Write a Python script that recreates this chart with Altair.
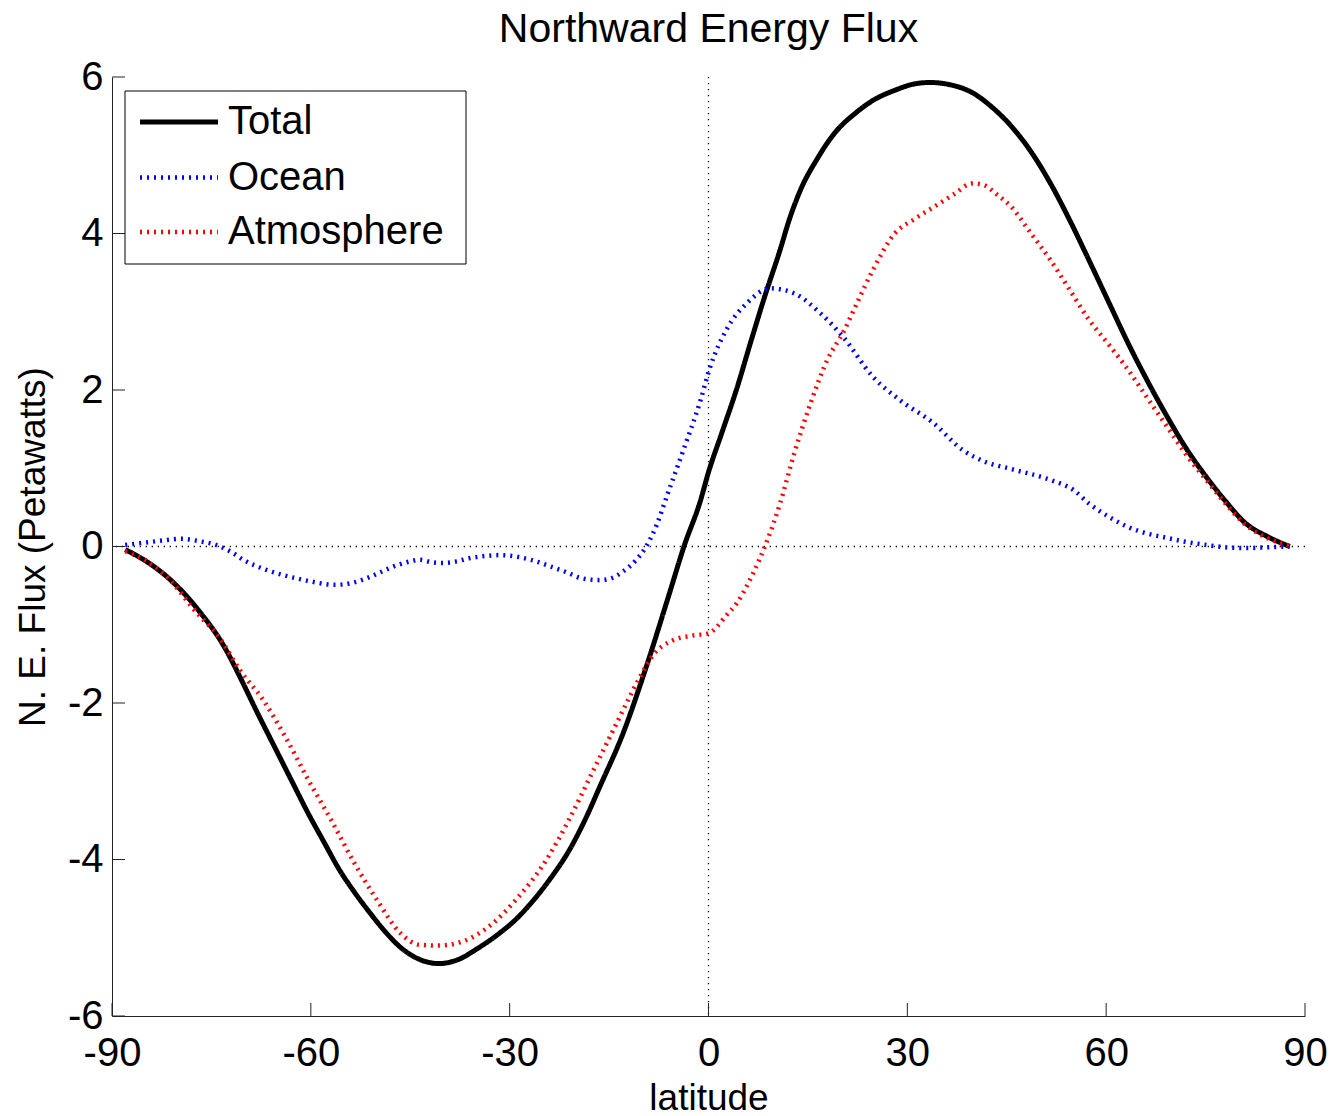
import altair as alt
import pandas as pd

# Northward energy flux by latitude (petawatts)
series_names = ["Total", "Ocean", "Atmosphere"]
series_colors = ["#000000", "#0000FF", "#FF0000"]

total_lat = [-88, -85, -81, -77, -73, -70.5, -68.5, -65, -62.5, -60.4, -58, -55.7, -53.4,
             -51.1, -48.8, -46.5, -43.5, -40.7, -37.8, -34.9, -31.5, -29, -26.8, -24, -21,
             -18.5, -16.4, -12.9, -9.4, -5.9, -3.7, -1.2, 0, 2, 4.2, 6.5, 8.5, 10.8, 12.2,
             14, 16.3, 19, 22.2, 25, 28.1, 31, 33.4, 36.5, 39.8, 42.7, 45.7, 48.7, 51.6,
             54.5, 57.4, 60.4, 63.3, 66.2, 69.2, 72.1, 75.1, 78, 81, 84.5, 87.7]
total_flux = [-0.04, -0.18, -0.44, -0.81, -1.29, -1.70, -2.05, -2.64, -3.06, -3.41, -3.78,
              -4.13, -4.42, -4.68, -4.92, -5.12, -5.28, -5.33, -5.28, -5.14, -4.94, -4.76,
              -4.56, -4.26, -3.88, -3.47, -3.07, -2.39, -1.54, -0.60, 0.0, 0.59, 0.95, 1.45,
              2.0, 2.65, 3.2, 3.79, 4.18, 4.58, 4.94, 5.28, 5.54, 5.71, 5.83, 5.91, 5.93,
              5.90, 5.80, 5.62, 5.37, 5.04, 4.64, 4.17, 3.66, 3.12, 2.60, 2.12, 1.66, 1.25,
              0.89, 0.58, 0.30, 0.12, 0.0]

ocean_lat = [-88, -85, -82, -79.5, -77, -74.3, -72, -70.2, -67, -64.4, -62, -59.8, -56.4,
             -53.5, -51.1, -49, -47, -45, -43.6, -41.8, -40.1, -38, -36.1, -33.5, -31.5,
             -29, -26.8, -24, -21.1, -19.4, -16.4, -14.5, -12.9, -11, -9.4, -7.8, -6.3,
             -3.8, -1.2, 0.2, 2.7, 5.8, 9.3, 12.8, 16.9, 20.3, 24.8, 28.9, 33.9, 38.4,
             41.5, 45.7, 51.6, 55.1, 57.4, 60.4, 63.3, 66, 69.2, 72, 75.1, 78, 81, 84.5,
             87.7]
ocean_flux = [0.02, 0.05, 0.08, 0.10, 0.07, 0.02, -0.07, -0.17, -0.29, -0.36, -0.41, -0.45,
              -0.49, -0.46, -0.39, -0.31, -0.24, -0.19, -0.17, -0.20, -0.21, -0.19, -0.15,
              -0.12, -0.11, -0.13, -0.17, -0.25, -0.34, -0.40, -0.43, -0.40, -0.32, -0.18,
              0.0, 0.28, 0.64, 1.23, 1.87, 2.28, 2.77, 3.11, 3.30, 3.24, 2.98, 2.68, 2.17,
              1.87, 1.58, 1.23, 1.09, 0.99, 0.85, 0.72, 0.55, 0.38, 0.25, 0.17, 0.11, 0.06,
              0.02, -0.01, -0.02, -0.01, 0.0]

atmos_lat = [-88, -84.7, -81, -77.9, -73.6, -70.7, -67.2, -63.6, -60.4, -56.9, -53.4, -50,
             -46.5, -43.6, -40.7, -37.2, -32.6, -29.1, -24.5, -21.1, -17.6, -14.1, -10.6,
             -8.3, -5.4, -2.5, 0, 2.7, 4.3, 6.0, 7.5, 8.6, 10.8, 12.8, 15.4, 17.9, 20.4,
             22.4, 24.9, 28.1, 31, 34, 37, 39.8, 41.5, 43.5, 45.7, 48.5, 51.6, 54.5, 57.4,
             60.4, 63.3, 66.2, 69.2, 72.1, 75.1, 78, 81, 84.5, 87.7]
atmos_flux = [-0.06, -0.19, -0.45, -0.78, -1.19, -1.58, -1.96, -2.47, -2.98, -3.50, -4.05,
              -4.52, -4.94, -5.09, -5.10, -5.05, -4.82, -4.52, -4.01, -3.50, -2.90, -2.30,
              -1.71, -1.38, -1.20, -1.14, -1.11, -0.88, -0.72, -0.47, -0.20, 0.02, 0.55,
              1.15, 1.83, 2.38, 2.75, 3.11, 3.55, 4.00, 4.18, 4.34, 4.50, 4.64, 4.62, 4.50,
              4.34, 4.02, 3.66, 3.28, 2.90, 2.58, 2.26, 1.90, 1.53, 1.17, 0.85, 0.55, 0.28,
              0.10, 0.01]

x_ticks = [-90, -60, -30, 0, 30, 60, 90]
y_ticks = [-6, -4, -2, 0, 2, 4, 6]

W, H = 1193, 939
FONT = "Liberation Sans"
TICK_LEN = 13
AXIS_COLOR = "#222222"
series_width = {"Total": 5, "Ocean": 4.5, "Atmosphere": 4.5}
series_dash = {"Total": [1, 0], "Ocean": [2, 5], "Atmosphere": [2, 5]}

rows = []
for name, lats, vals in [("Total", total_lat, total_flux),
                         ("Ocean", ocean_lat, ocean_flux),
                         ("Atmosphere", atmos_lat, atmos_flux)]:
    for order, (la, v) in enumerate(zip(lats, vals)):
        rows.append({"series": name, "lat": la, "flux": v, "order": order})
df = pd.DataFrame(rows)

x_scale = alt.Scale(domain=[-90, 90], nice=False, zero=False)
y_scale = alt.Scale(domain=[-6, 6], nice=False, zero=False)

label_style = dict(labelFont=FONT, labelFontSize=40, labelColor="#000000",
                   labelExpr="'' + datum.value", labelFlush=False,
                   ticks=False, tickSize=0, grid=False,
                   domainColor=AXIS_COLOR, domainWidth=1,
                   titleFont=FONT, titleFontSize=37, titleFontWeight="normal",
                   titleColor="#000000")

x_enc = alt.X(
    "lat:Q", scale=x_scale,
    axis=alt.Axis(values=x_ticks, title="latitude", labelPadding=17,
                  titleX=W / 2, titleY=93, titleBaseline="alphabetic",
                  titleAlign="center", **label_style),
)
y_enc = alt.Y(
    "flux:Q", scale=y_scale,
    axis=alt.Axis(values=y_ticks, title="N. E. Flux (Petawatts)", labelPadding=9,
                  titleX=-79, titleY=H / 2, titleAngle=270, titleBaseline="middle",
                  titleAlign="center", **label_style),
)
color_enc = alt.Color("series:N",
                      scale=alt.Scale(domain=series_names, range=series_colors),
                      legend=None)


def series_line(name):
    return alt.Chart(df).transform_filter(alt.datum.series == name).mark_line(
        strokeWidth=series_width[name], strokeDash=series_dash[name],
        interpolate="monotone", strokeCap="butt",
    ).encode(x=x_enc, y=y_enc, color=color_enc, order=alt.Order("order:Q"))


# dotted reference lines through zero
zero_h = alt.Chart(pd.DataFrame({"flux": [0]})).mark_rule(
    color="#000000", strokeWidth=1.3, strokeDash=[1.3, 4.7]).encode(
    y=alt.Y("flux:Q", scale=y_scale))
zero_v = alt.Chart(pd.DataFrame({"lat": [0]})).mark_rule(
    color="#000000", strokeWidth=1.3, strokeDash=[1.3, 4.7]).encode(
    x=alt.X("lat:Q", scale=x_scale))

# inward-pointing tick marks
x_tick_marks = alt.Chart(pd.DataFrame({"lat": x_ticks})).mark_rule(
    color=AXIS_COLOR, strokeWidth=1).encode(
    x=alt.X("lat:Q", scale=x_scale), y=alt.value(H), y2=alt.value(H - TICK_LEN))
y_tick_marks = alt.Chart(pd.DataFrame({"flux": y_ticks})).mark_rule(
    color=AXIS_COLOR, strokeWidth=1).encode(
    y=alt.Y("flux:Q", scale=y_scale), x=alt.value(0), x2=alt.value(TICK_LEN))

# chart title
title_mark = alt.Chart(pd.DataFrame({"t": ["Northward Energy Flux"]})).mark_text(
    font=FONT, fontSize=41, color="#000000", align="center", baseline="alphabetic",
).encode(text="t:N", x=alt.value(W / 2), y=alt.value(-35))

# legend box in the upper-left corner of the plot
LEG_X0, LEG_Y0, LEG_X1, LEG_Y1 = 13, 14, 354, 187
LEG_LINE_X0, LEG_LINE_X1, LEG_TEXT_X = 28, 106, 116
LEG_ROW_Y = [45, 100.5, 155]

legend_layers = [
    alt.Chart(pd.DataFrame({"k": [0]})).mark_rect(
        fill="#ffffff", stroke="#000000", strokeWidth=1).encode(
        x=alt.value(LEG_X0), x2=alt.value(LEG_X1),
        y=alt.value(LEG_Y0), y2=alt.value(LEG_Y1))
]
for name, color, ry in zip(series_names, series_colors, LEG_ROW_Y):
    legend_layers.append(
        alt.Chart(pd.DataFrame({"series": [name]})).mark_rule(
            color=color, strokeWidth=series_width[name], strokeDash=series_dash[name],
            strokeCap="butt").encode(
            x=alt.value(LEG_LINE_X0), x2=alt.value(LEG_LINE_X1), y=alt.value(ry))
    )
    legend_layers.append(
        alt.Chart(pd.DataFrame({"series": [name]})).mark_text(
            font=FONT, fontSize=40, color="#000000", align="left", baseline="middle").encode(
            text="series:N", x=alt.value(LEG_TEXT_X), y=alt.value(ry))
    )

chart = alt.layer(
    zero_h, zero_v, x_tick_marks, y_tick_marks,
    series_line("Total"), series_line("Ocean"), series_line("Atmosphere"),
    *legend_layers, title_mark,
).properties(
    width=W, height=H,
    view=alt.ViewBackground(stroke="transparent", strokeWidth=0, strokeOpacity=0),
    autosize=alt.AutoSizeParams(type="none"),
    padding={"left": 112, "top": 77, "right": 27, "bottom": 100},
).configure_view(
    stroke="transparent", strokeWidth=0, strokeOpacity=0
).configure(background="#ffffff")

chart.save("out.html", embed_options={"renderer": "svg", "actions": False})
